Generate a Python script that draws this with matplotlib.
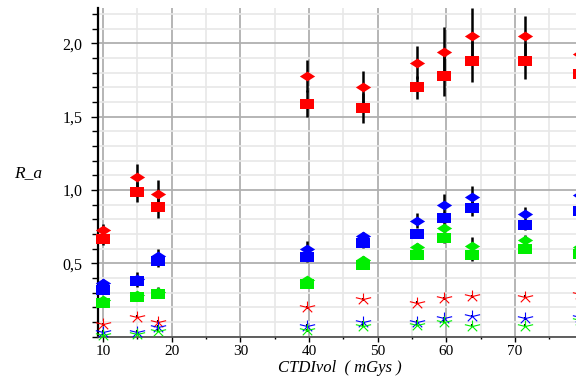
import numpy as np
import matplotlib
matplotlib.use("Agg")
import matplotlib.pyplot as plt
from matplotlib.path import Path
from matplotlib.ticker import MultipleLocator, FuncFormatter

# ---- data ----
x = [10, 15, 18, 39.7, 47.8, 55.7, 59.7, 63.7, 71.5, 79.5]

red_diamond = [0.73, 1.09, 0.97, 1.78, 1.70, 1.87, 1.94, 2.05, 2.05, 1.93]
red_diamond_err = [0.04, 0.09, 0.10, 0.11, 0.11, 0.11, 0.17, 0.19, 0.14, 0.13]
red_square = [0.665, 0.986, 0.886, 1.59, 1.56, 1.70, 1.78, 1.88, 1.88, 1.79]
red_square_err = [0.04, 0.07, 0.08, 0.09, 0.10, 0.08, 0.14, 0.14, 0.12, 0.10]

blue_diamond = [0.365, 0.39, 0.55, 0.60, 0.686, 0.79, 0.90, 0.95, 0.834, 0.966]
blue_diamond_err = [0.03, 0.05, 0.05, 0.05, 0.03, 0.05, 0.07, 0.08, 0.05, 0.05]
blue_square = [0.317, 0.38, 0.515, 0.54, 0.636, 0.70, 0.81, 0.875, 0.76, 0.857]
blue_square_err = [0.03, 0.03, 0.04, 0.03, 0.03, 0.03, 0.04, 0.05, 0.03, 0.03]

green_diamond = [0.25, 0.28, 0.305, 0.385, 0.52, 0.61, 0.74, 0.62, 0.66, 0.61]
green_diamond_err = [0.02, 0.02, 0.03, 0.02, 0.03, 0.03, 0.03, 0.06, 0.03, 0.03]
green_square = [0.23, 0.27, 0.29, 0.36, 0.49, 0.554, 0.67, 0.555, 0.595, 0.56]
green_square_err = [0.02, 0.02, 0.02, 0.02, 0.02, 0.02, 0.03, 0.04, 0.02, 0.02]

red_star = [0.083, 0.135, 0.10, 0.20, 0.254, 0.23, 0.26, 0.276, 0.27, 0.29]
blue_star = [0.033, 0.033, 0.067, 0.074, 0.097, 0.10, 0.124, 0.14, 0.124, 0.13]
green_star = [0.01, 0.02, 0.04, 0.044, 0.074, 0.08, 0.10, 0.074, 0.074, 0.11]
star_err = [0.01] * 10

yticks = [0.5, 1.0, 1.5, 2.0]
xticks = [10, 20, 30, 40, 50, 60, 70]

# ---- markers ----
rect = Path([(-1, -0.64), (1, -0.64), (1, 0.64), (-1, 0.64), (-1, -0.64)],
            [Path.MOVETO, Path.LINETO, Path.LINETO, Path.LINETO, Path.CLOSEPOLY])
diam = Path([(-1, 0), (0, 0.64), (1, 0), (0, -0.64), (-1, 0)],
            [Path.MOVETO, Path.LINETO, Path.LINETO, Path.LINETO, Path.CLOSEPOLY])
sv, sc = [], []
for a in [90, 90 - 72, 90 - 144, 90 + 72, 90 + 144]:
    t = np.deg2rad(a)
    sv += [(0, 0), (1.35 * np.cos(t), np.sin(t))]
    sc += [Path.MOVETO, Path.LINETO]
star = Path(sv, sc)

fig = plt.figure(figsize=(5.76, 3.76), dpi=100)
ax = fig.add_axes([98 / 576, 1 - 336.5 / 376, 1 - 98 / 576, (336.5 - 8) / 376])
ax.set_xlim(9.27, 78.88)
ax.set_ylim(0, 2.242)

ax.xaxis.set_major_locator(MultipleLocator(10))
ax.xaxis.set_minor_locator(MultipleLocator(5))
ax.yaxis.set_major_locator(MultipleLocator(0.5))
ax.yaxis.set_minor_locator(MultipleLocator(0.1))
ax.set_xticks(xticks)
ax.set_yticks(yticks)
ax.yaxis.set_major_formatter(FuncFormatter(lambda v, p: f"{v:.1f}".replace(".", ",")))

ax.grid(which="major", color="#b0b0b0", lw=1.3, zorder=0)
ax.grid(which="minor", color="#e8e8e8", lw=1.2, zorder=0)
ax.set_axisbelow(True)

for s in ["top", "right"]:
    ax.spines[s].set_visible(False)
ax.spines["left"].set_color("black")
ax.spines["left"].set_linewidth(1.6)
ax.spines["bottom"].set_color("#444444")
ax.spines["bottom"].set_linewidth(1.2)

serif = ["Liberation Serif", "DejaVu Serif"]
ax.tick_params(axis="y", which="major", length=5, width=1, pad=6, labelsize=11.5)
ax.tick_params(axis="y", which="minor", length=4, width=1)
ax.tick_params(axis="x", which="major", length=3.5, width=1, pad=2.5, labelsize=11)
ax.tick_params(axis="x", which="minor", length=1.5, width=1)
for lab in ax.get_xticklabels() + ax.get_yticklabels():
    lab.set_family(serif)

groups = [
    (red_diamond, red_diamond_err, "#ff0000", diam, 11),
    (red_square, red_square_err, "#ff0000", rect, 10.5),
    (blue_diamond, blue_diamond_err, "#0000ff", diam, 11),
    (blue_square, blue_square_err, "#0000ff", rect, 10.5),
    (green_diamond, green_diamond_err, "#00ee00", diam, 11),
    (green_square, green_square_err, "#00ee00", rect, 10.5),
]
for vals, err, col, mk, ms in groups:
    ax.errorbar(x, vals, yerr=err, fmt="none", ecolor="black", elinewidth=1.8,
                capsize=0, zorder=2, clip_on=False)
for vals, err, col, mk, ms in groups:
    ax.plot(x, vals, linestyle="none", marker=mk, markersize=ms, color=col,
            markeredgewidth=0, zorder=3, clip_on=False)

for vals, col in [(red_star, "#ff0000"), (blue_star, "#0000ff"), (green_star, "#00ee00")]:
    ax.errorbar(x, vals, yerr=star_err, fmt="none", ecolor="black", elinewidth=1.5,
                capsize=0, zorder=2, clip_on=False)
    ax.plot(x, vals, linestyle="none", marker=star, markersize=11, color=col,
            markerfacecolor="none", markeredgecolor=col, markeredgewidth=0.8,
            zorder=3, clip_on=False)

ax.set_xlabel("CTDIvol  ( mGys )", family=serif, style="italic", fontsize=12)
ax.xaxis.label.set_va("center")
ax.xaxis.set_label_coords((340 - 98) / (576 - 98), -(367.5 - 336.5) / (336.5 - 8))
fig.text(28 / 576, 1 - 173 / 376, "R_a", family=serif, style="italic",
         fontsize=12.5, ha="center", va="center")

fig.savefig("out.png", dpi=100)
